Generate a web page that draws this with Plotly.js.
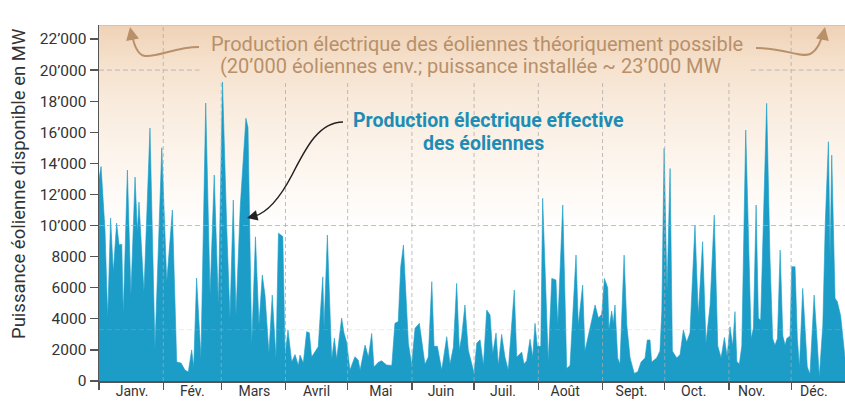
<!DOCTYPE html>
<html>
<head>
<meta charset="utf-8">
<script src="https://cdn.plot.ly/plotly-3.0.1.min.js"></script>
<style>
html,body{margin:0;padding:0;background:#fff;}
#chart{width:845px;height:401px;}
</style>
</head>
<body>
<div id="chart"></div>
<script>
// ---- data ----
const days = [0,1.0,2.9,4.2,5.6,6.9,8.5,9.7,11.0,11.7,13.7,15.4,17.4,18.5,19.3,21.7,24.6,27.0,30.3,32.7,35.4,37.5,39.6,41.5,43.1,44.7,45.7,47.1,49.2,51.5,53.6,55.6,57.6,59.6,61.6,63.2,64.8,66.1,68.2,70.9,71.9,73.7,75.5,77.2,78.8,80.1,82.0,83.6,85.4,86.6,88.7,89.8,91.2,92.2,93.0,94.6,96.2,97.0,98.6,100.2,101.5,102.6,105.8,106.7,108.0,108.6,110.2,111.5,112.3,113.6,114.7,117.1,118.2,119.5,121.1,123.5,125.1,126.0,128.4,130.0,131.6,132.7,134.8,136.4,138.8,141.3,142.8,144.4,145.6,146.9,148.2,149.3,150.9,152.5,154.6,156.2,157.3,158.9,160.6,161.7,163.3,165.4,167.8,169.4,171.0,172.6,173.9,175.0,176.6,178.2,179.9,181.0,182.3,183.9,185.5,187.1,188.7,190.0,191.6,192.7,194.3,195.9,197.5,198.7,200.4,201.6,204.0,205.1,206.4,208.0,209.3,210.4,211.5,213.2,214.1,216.8,218.5,220.5,221.4,223.8,225.7,227.3,230.2,231.3,233.4,234.5,237.0,239.4,241.0,242.6,243.9,245.5,246.1,247.4,248.2,249.0,250.3,251.4,253.4,254.7,256.3,258.3,260.0,261.6,263.5,264.6,265.9,266.7,269.1,270.7,271.6,272.7,274.1,275.6,276.7,278.8,280.4,282.0,283.6,285.2,287.6,289.2,291.3,292.9,294.9,296.9,298.6,300.2,301.8,303.1,304.5,305.8,306.9,307.8,309.0,310.2,312.1,314.7,315.8,317.1,318.2,319.3,322.2,323.8,325.1,326.2,327.4,328.7,330.0,331.1,331.9,333.5,334.3,335.9,337.0,338.0,339.6,340.7,341.8,343.1,345.1,346.4,347.6,349.3,350.5,352.0,352.8,353.6,355.2,356.3,357.9,360.0];
const mw = [13000,13800,9700,4050,10480,7000,10160,8750,8800,4240,13570,5530,13120,9580,11510,5720,16270,2120,15000,6370,11000,1220,1150,700,580,2000,900,6620,1480,17880,5530,13250,4890,19240,10030,4050,11640,4240,11300,16900,16300,2310,9270,3600,6820,5530,1800,5530,1480,9500,9300,1670,3280,1900,1220,1700,1000,1670,1150,3170,3100,1540,2200,4130,6700,3400,9390,4370,1400,2760,1400,4050,3100,2500,700,1560,1350,700,2310,1540,3060,900,1200,1300,1030,1000,3710,3820,7350,8750,4780,2430,1030,3390,3710,2170,1070,1540,6390,2230,2230,700,2850,1100,2170,6280,1990,2850,4890,2000,1000,510,2440,2650,1000,4570,4250,1750,3090,1000,3000,1540,700,3000,5850,1540,1860,1100,1300,2690,1540,3710,2230,2230,11750,1240,6600,6500,3600,11320,810,1000,8100,3600,6170,1930,3530,4890,4050,4300,6600,6000,3300,4500,3700,4890,1480,1100,8100,3600,1480,490,600,1220,1480,2640,2640,1220,1480,1930,4500,14960,5740,13670,1930,1480,1700,3280,2500,3100,10030,4240,8960,2450,4890,10670,2250,1500,2800,1600,3490,2250,4460,1250,1100,2250,16140,2740,3400,11320,4050,3900,17860,7900,2740,2300,2740,8420,2900,2300,2740,2900,7350,7350,2740,900,5960,3600,900,450,5530,2900,280,3600,10240,15390,7900,14530,5320,5100,4200,1500];

const monthBounds = [0,31,59,90,120,151,181,212,243,273,304,334];
const monthCenters = [16,45,75,105,136,165,195,225,257,287,315,345];
const monthLabels = ['Janv.','Fév.','Mars','Avril','Mai','Juin','Juil.','Août','Sept.','Oct.','Nov.','Déc.'];
const yTicks = [0,2000,4000,6000,8000,10000,12000,14000,16000,18000,20000,22000];
const yTickText = ['0','2000','4000','6000','8000','10\u2019000','12\u2019000','14\u2019000','16\u2019000','18\u2019000','20\u2019000','22\u2019000'];
const theoryLevel = 20000;
const refLevel = 10000;
const avgLevel = 3300;

// ---- layout helpers ----
const W = 845, H = 401, L = 99, R = 0, T = 25, B = 20;
const XMAX = 360, YMAX = 22900;
const pw = W - L - R, ph = H - T - B;
const px = x => (x - L) / pw;          // page pixel -> paper x
const py = y => (H - B - y) / ph;       // page pixel -> paper y
const textSpan = [48.5, 314.5];          // days covered by the top caption
const tan = '#b8906a';
const gridCol = 'rgba(170,170,170,0.75)';

const shapes = [];
monthBounds.slice(1).forEach(d => {
  const inText = d > textSpan[0] && d < textSpan[1];
  shapes.push({type:'line', xref:'x', yref:'y', x0:d, x1:d, y0:0, y1: inText ? 19300 : YMAX,
    line:{color:gridCol, width:1, dash:'4px,3px'}, layer:'above'});
});
shapes.push({type:'line', xref:'x', yref:'y', x0:0, x1:XMAX, y0:refLevel, y1:refLevel,
  line:{color:gridCol, width:1, dash:'5px,3px'}, layer:'above'});
shapes.push({type:'line', xref:'x', yref:'y', x0:0, x1:textSpan[0], y0:theoryLevel, y1:theoryLevel,
  line:{color:gridCol, width:1, dash:'5px,3px'}, layer:'above'});
shapes.push({type:'line', xref:'x', yref:'y', x0:textSpan[1], x1:XMAX, y0:theoryLevel, y1:theoryLevel,
  line:{color:gridCol, width:1, dash:'5px,3px'}, layer:'above'});
shapes.push({type:'line', xref:'x', yref:'y', x0:0, x1:XMAX, y0:avgLevel, y1:avgLevel,
  line:{color:'rgba(215,175,165,0.28)', width:1, dash:'5px,3px'}, layer:'above'});
shapes.push({type:'line', xref:'x', yref:'y', x0:0, x1:XMAX, y0:YMAX, y1:YMAX,
  line:{color:'#dfc2a4', width:2}, layer:'above'});
const P = (x,y) => px(x).toFixed(4) + ',' + py(y).toFixed(4);
shapes.push({type:'path', xref:'paper', yref:'paper',
  path:'M' + P(199,47) + ' C' + P(175,47) + ' ' + P(160,57) + ' ' + P(145,56) + ' C' + P(136,55) + ' ' + P(133,40) + ' ' + P(131,31),
  line:{color:tan, width:2}});
shapes.push({type:'path', xref:'paper', yref:'paper',
  path:'M' + P(756,48) + ' C' + P(785,48) + ' ' + P(800,58) + ' ' + P(810,54) + ' C' + P(818,50) + ' ' + P(821,40) + ' ' + P(824,31),
  line:{color:tan, width:2}});
shapes.push({type:'path', xref:'paper', yref:'paper',
  path:'M' + P(343,122) + ' C' + P(318,122) + ' ' + P(305,150) + ' ' + P(292,175) + ' C' + P(280,198) + ' ' + P(266,214) + ' ' + P(252,217),
  line:{color:'#222', width:1.5}});

const ann = (x, y, text, font, extra) => Object.assign({xref:'paper', yref:'paper', x:px(x), y:py(y),
  xanchor:'center', yanchor:'middle', text:text, showarrow:false, font:font}, extra || {});
const tanFont = {family:'Roboto, sans-serif', size:20, color:tan};
const blueFont = {family:'Roboto, sans-serif', size:19.5, color:'#1d8db6', weight:700};

const annotations = [
  ann(19, 184, 'Puissance éolienne disponible en MW', {family:'Roboto, sans-serif', size:18.5, color:'#333'}, {textangle:-90}),
  ann(477, 44, 'Production électrique des éoliennes théoriquement possible', tanFont),
  ann(471, 66, '(20\u2019000 éoliennes env.; puissance installée ~ 23\u2019000 MW', tanFont),
  ann(488, 120, 'Production électrique effective', blueFont),
  ann(483, 143, 'des éoliennes', blueFont),
  {xref:'paper', yref:'paper', x:px(130), y:py(27), ax:2, ay:10, text:'', showarrow:true,
   arrowhead:2, arrowsize:1.3, arrowwidth:2, arrowcolor:tan},
  {xref:'paper', yref:'paper', x:px(825), y:py(27), ax:-2, ay:10, text:'', showarrow:true,
   arrowhead:2, arrowsize:1.3, arrowwidth:2, arrowcolor:tan},
  {xref:'paper', yref:'paper', x:px(247), y:py(218), ax:8, ay:-2, text:'', showarrow:true,
   arrowhead:2, arrowsize:1.4, arrowwidth:1.5, arrowcolor:'#222'}
];

const traces = [
  {type:'scatter', x:[0,XMAX,XMAX,0,0], y:[0,0,YMAX,YMAX,0], mode:'lines', fill:'toself',
   line:{width:0}, hoverinfo:'skip', showlegend:false,
   fillgradient:{type:'vertical', colorscale:[[0,'#ffffff'],[0.42,'#ffffff'],[0.6,'#fdf6ef'],[0.78,'#f9ebdd'],[0.9,'#f5e0cb'],[1,'#efd2b6']]}},
  {type:'scatter', x:days, y:mw, mode:'lines', fill:'tozeroy', fillcolor:'#1b9dc7',
   line:{color:'#1b9dc7', width:0.6}, hoverinfo:'skip', showlegend:false}
];

const layout = {
  width:W, height:H, margin:{l:L, r:R, t:T, b:B, pad:0},
  paper_bgcolor:'#ffffff', plot_bgcolor:'#ffffff', showlegend:false,
  font:{family:'Roboto, sans-serif', color:'#333'},
  xaxis:{range:[0,XMAX], showgrid:false, zeroline:false, showline:true, linecolor:'#555', linewidth:1.5,
    tickmode:'array', tickvals:monthCenters, ticktext:monthLabels, ticks:'outside', ticklen:0,
    ticklabelstandoff:-3,
    tickfont:{size:14, color:'#333'},
    minor:{tickmode:'array', tickvals:monthBounds, ticks:'outside', ticklen:7, tickwidth:1.2, tickcolor:'#555', showgrid:false}},
  yaxis:{range:[0,YMAX], showgrid:false, zeroline:false, showline:true, linecolor:'#555', linewidth:1.5,
    tickmode:'array', tickvals:yTicks, ticktext:yTickText, ticks:'outside', ticklen:8, tickwidth:1.2, tickcolor:'#555',
    tickfont:{size:15.5, color:'#333'}},
  shapes:shapes, annotations:annotations
};

Plotly.newPlot('chart', traces, layout, {staticPlot:true, displayModeBar:false});
</script>
</body>
</html>
